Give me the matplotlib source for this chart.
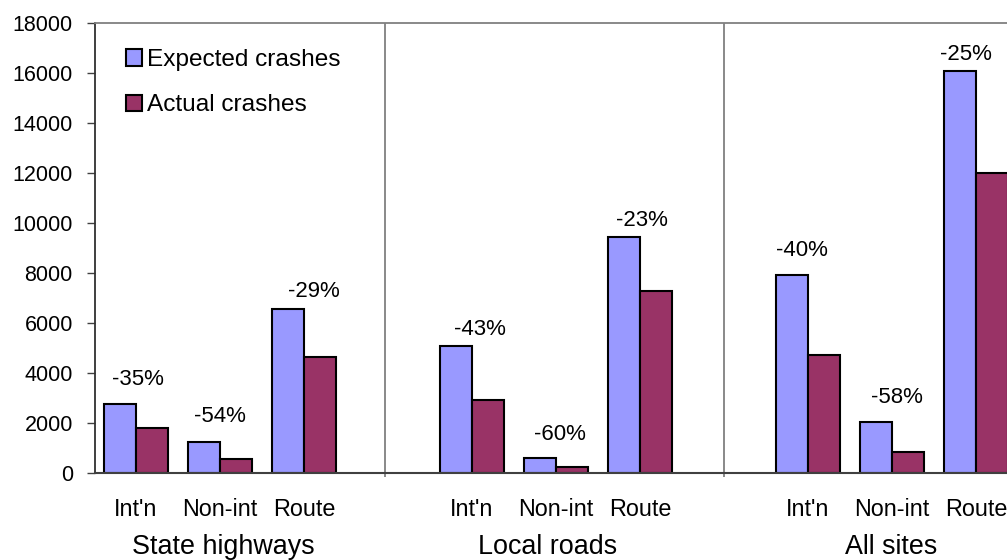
import matplotlib
matplotlib.use("Agg")
import matplotlib.pyplot as plt
import matplotlib.transforms as mtransforms

plt.rcParams['font.family'] = ['Liberation Sans', 'DejaVu Sans']

# ---- data ----
groups = ["State highways", "Local roads", "All sites"]
categories = ["Int'n", "Non-int", "Route"]
expected = [2750, 1260, 6570,   5090, 600, 9430,   7930, 2030, 16100]
actual = [1790, 580, 4660,   2920, 240, 7290,   4740, 850, 11990]
pct_labels = ["-35%", "-54%", "-29%", "-43%", "-60%", "-23%", "-40%", "-58%", "-25%"]
series_names = ["Expected crashes", "Actual crashes"]
yticks = list(range(0, 18001, 2000))

# ---- layout (positions / styles) ----
W, H = 1007, 560
PX = 72 / 100  # points per pixel
fig = plt.figure(figsize=(W / 100, H / 100), dpi=100)
ax = fig.add_axes([95 / W, 1 - 473 / H, 1 - 95 / W, (473 - 23) / H])

slots = [0, 1, 2, 4, 5, 6, 8, 9, 10]
label_dx_px = [2, 0, 10, 8, 4, 2, -6, 5, -10]
label_dy_px = [19.5, 19, 12, 10.7, 17.7, 11.7, 19, 19, 10]
bw = 0.381
c_exp = "#9999FF"
c_act = "#993366"

b1 = ax.bar([s - bw / 2 for s in slots], expected, width=bw, color=c_exp,
            edgecolor="black", linewidth=1.5, label=series_names[0], zorder=3)
b2 = ax.bar([s + bw / 2 for s in slots], actual, width=bw, color=c_act,
            edgecolor="black", linewidth=1.5, label=series_names[1], zorder=3)

for s, e, lab, dx, dy in zip(slots, expected, pct_labels, label_dx_px, label_dy_px):
    ax.annotate(lab, (s, e), xytext=(dx * PX, dy * PX), textcoords="offset points",
                ha="center", va="baseline", fontsize=16)

ax.set_xlim(-0.488, 10.37)
ax.set_ylim(0, 18000)
ax.set_yticks(yticks)
ax.set_yticklabels([str(v) for v in yticks], fontsize=15.5)
ax.tick_params(axis="y", direction="out", length=6, width=1, color="#404040", pad=10)

seps = [2.96, 7.0]
for x in seps:
    ax.axvline(x, color="#808080", linewidth=1.3, zorder=1)
ax.set_xticks(seps)
ax.set_xticklabels(["", ""])
ax.tick_params(axis="x", direction="out", length=3, width=1.3, color="#808080")

ax.spines["right"].set_visible(False)
ax.spines["top"].set_color("#808080")
ax.spines["top"].set_linewidth(1.3)
ax.spines["left"].set_color("#303030")
ax.spines["left"].set_linewidth(1.3)
ax.spines["bottom"].set_color("#404040")
ax.spines["bottom"].set_linewidth(1.5)
ax.spines["bottom"].set_zorder(4)

trans = mtransforms.blended_transform_factory(ax.transData, fig.transFigure)
for i, s in enumerate(slots):
    ax.text(s, 1 - 516 / H, categories[i % 3], transform=trans, ha="center",
            va="baseline", fontsize=16.8)
group_x = [1.04, 4.90, 8.99]
for gx, g in zip(group_x, groups):
    ax.text(gx, 1 - 554 / H, g, transform=trans, ha="center", va="baseline",
            fontsize=19.4)

leg = ax.legend(handles=[b1, b2], loc="upper left",
                bbox_to_anchor=(126 / W, 1 - 49 / H), bbox_transform=fig.transFigure,
                frameon=False, fontsize=17.6, borderpad=0, borderaxespad=0,
                handlelength=0.65, handleheight=0.65, handletextpad=0.22,
                labelspacing=0.96)

fig.savefig("out.png", dpi=100)
